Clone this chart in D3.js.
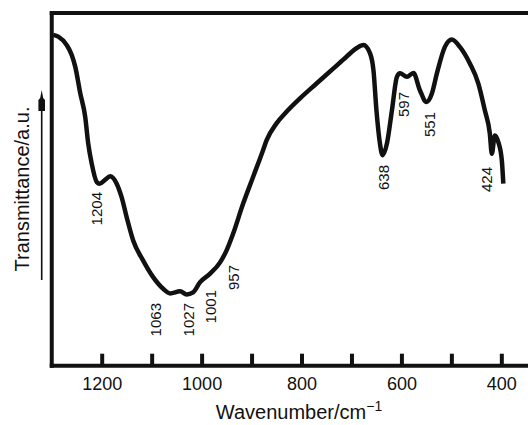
<!DOCTYPE html>
<html>
<head>
<meta charset="utf-8">
<script src="https://cdn.jsdelivr.net/npm/d3@7"></script>
<style>
  html, body { margin: 0; padding: 0; background: #fff; }
  svg { display: block; }
  text { font-family: "Liberation Sans", Arial, Helvetica, sans-serif; fill: #111; }
</style>
</head>
<body>
<svg id="chart" width="528" height="425"></svg>
<script>
// ---- data ----
const wavenumber = [1297, 1287, 1270, 1260, 1253, 1243, 1233, 1227, 1220, 1210, 1204, 1194, 1183, 1170, 1160,
  1150, 1137, 1117, 1097, 1077, 1063, 1043, 1030, 1017, 1003, 983, 963, 950, 937, 917, 897, 877, 870,
  850, 830, 803, 770, 736, 710, 690, 676, 663, 656, 650, 643, 638, 629, 619, 609, 603, 589, 576, 563,
  550, 539, 529, 513, 499, 483, 463, 446, 433, 423, 419, 413, 406, 399, 396];
const transmittance = [93.8, 93.3, 90.9, 88.1, 84.8, 77.3, 70.5, 63.0, 57.3, 52.1, 51.6, 52.6, 53.7, 51.6, 47.7,
  42.1, 35.5, 29.8, 25.1, 21.8, 20.5, 21.1, 20.2, 20.8, 23.7, 26.1, 29.3, 32.7, 37.4, 45.9, 53.5, 61.1, 63.9,
  68.7, 72.0, 75.8, 80.0, 84.3, 87.6, 90.0, 90.9, 88.6, 83.8, 72.4, 63.0, 59.7, 63.0, 72.4, 81.9, 82.9, 81.9, 83.0, 78.1,
  74.8, 77.2, 82.9, 90.4, 92.5, 90.4, 85.7, 80.0, 72.4, 65.8, 60.1, 65.3, 63.4, 58.2, 51.6];

const tickValues = [1200, 1100, 1000, 900, 800, 700, 600, 500, 400];
const tickLabels = ["1200", "", "1000", "", "800", "", "600", "", "400"];

const peakLabels = ["1204", "1063", "1027", "1001", "957", "638", "597", "551", "424"];
const peakWavenumbers = [1210, 1092, 1026, 983, 936, 636, 595, 544, 429];
const peakLabelTops = [192, 303, 303, 290, 265, 165, 92, 112, 167];

const xTitle = "Wavenumber/cm";
const yTitle = "Transmittance/a.u.";

// ---- layout ----
const svg = d3.select("#chart");
const W = 528, H = 425;
const mLeft = 51.75, mTop = 13, mBottom = 365.7;

const x = d3.scaleLinear().domain([1300, 346.6]).range([mLeft, W]);
const y = d3.scaleLinear().domain([0, 100]).range([mBottom, mTop]);

const ink = "#111";

// frame: left and top lines
svg.append("line").attr("x1", mLeft).attr("x2", mLeft).attr("y1", mTop - 2).attr("y2", mBottom + 2)
  .attr("stroke", ink).attr("stroke-width", 4);
svg.append("line").attr("x1", mLeft - 2).attr("x2", W).attr("y1", mTop).attr("y2", mTop)
  .attr("stroke", ink).attr("stroke-width", 4);

// bottom axis
const xAxis = d3.axisBottom(x)
  .tickValues(tickValues)
  .tickFormat((d, i) => tickLabels[i])
  .tickSizeInner(-12)
  .tickSizeOuter(0)
  .tickPadding(11.5);

const gx = svg.append("g").attr("transform", `translate(0,${mBottom})`).call(xAxis);
gx.select(".domain").attr("stroke", ink).attr("stroke-width", 4).attr("d", `M${mLeft - 2},0H${W}`);
gx.selectAll(".tick line").attr("stroke", ink).attr("stroke-width", 4);
gx.selectAll(".tick text").attr("font-size", 18).attr("fill", ink)
  .style("font-family", '"Liberation Sans", Arial, sans-serif');

// spectrum
const data = wavenumber.map((w, i) => ({ w, t: transmittance[i] }));
const line = d3.line().x(d => x(d.w)).y(d => y(d.t)).curve(d3.curveMonotoneX);
svg.append("path").datum(data)
  .attr("d", line)
  .attr("fill", "none")
  .attr("stroke", ink)
  .attr("stroke-width", 4.5)
  .attr("stroke-linejoin", "round");

// peak labels (rotated)
peakLabels.forEach((lab, i) => {
  const cx = x(peakWavenumbers[i]);
  svg.append("text")
    .attr("transform", `translate(${cx},${peakLabelTops[i]}) rotate(-90)`)
    .attr("text-anchor", "end")
    .attr("dy", "0.36em")
    .attr("font-size", 15)
    .text(lab);
});

// x title with superscript
const xt = svg.append("text")
  .attr("x", 299).attr("y", 419)
  .attr("text-anchor", "middle")
  .attr("font-size", 20);
xt.append("tspan").text(xTitle);
xt.append("tspan").attr("dy", -8).attr("font-size", 14).text("\u22121");

// y title
svg.append("text")
  .attr("transform", `translate(28.5,189) rotate(-90)`)
  .attr("text-anchor", "middle")
  .attr("font-size", 20)
  .text(yTitle);

// y arrow
svg.append("line").attr("x1", 41.7).attr("x2", 41.7).attr("y1", 110).attr("y2", 280)
  .attr("stroke", ink).attr("stroke-width", 1.6);
svg.append("path")
  .attr("d", "M41.7,90 L43.2,98 L45,100 L45,111 L38.4,111 L38.4,100 L40.2,98 Z")
  .attr("fill", ink);
</script>
</body>
</html>
